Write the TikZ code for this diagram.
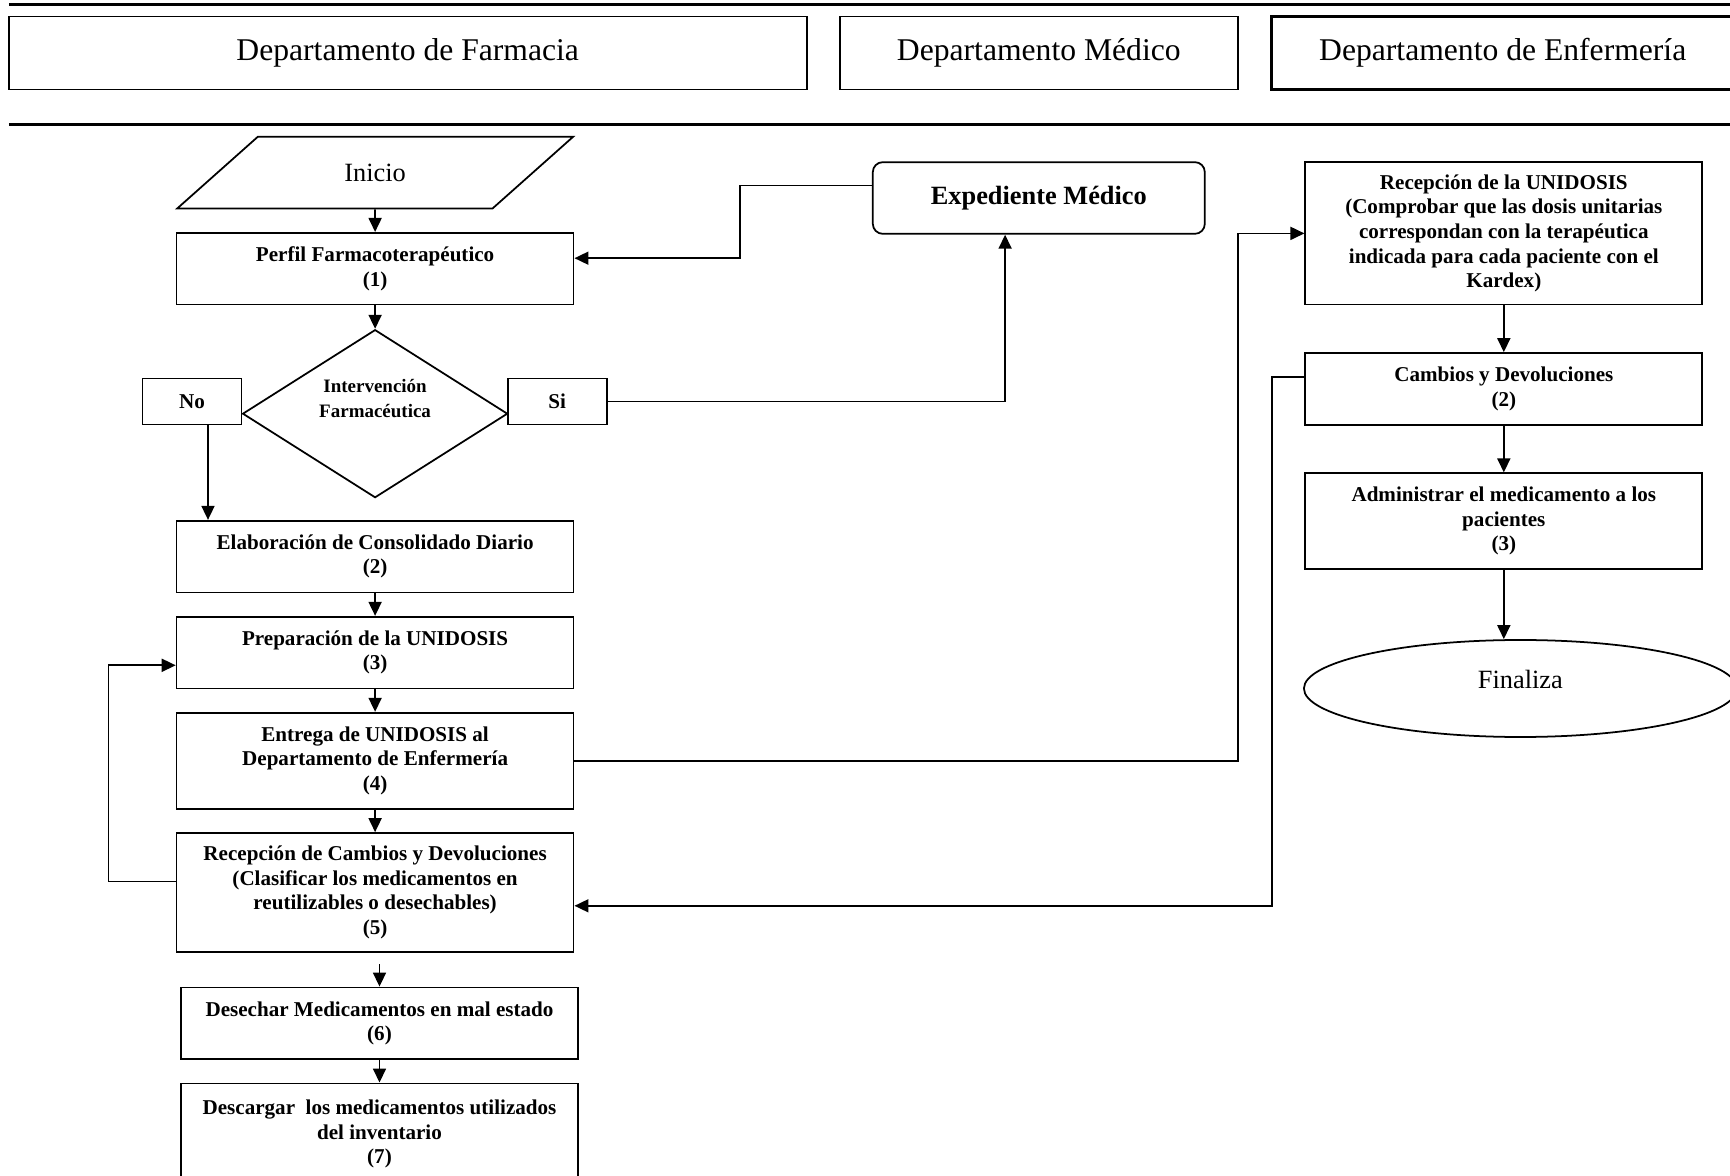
\documentclass[tikz,border=0pt]{standalone}
\usepackage{fontspec}
\setmainfont{Liberation Serif}
\usetikzlibrary{shapes.geometric,arrows.meta}

\begin{document}
\begin{tikzpicture}[
    line width=0.5pt,
    caja/.style={draw, rectangle, minimum width=3.97cm, align=center, inner sep=1pt, font=\bfseries\fontsize{6}{7}\selectfont},
    depto/.style={draw, rectangle, minimum height=0.73cm, font=\fontsize{9}{11}\selectfont},
    resp/.style={draw, rectangle, minimum width=0.99cm, minimum height=0.46cm, inner sep=1pt, font=\bfseries\fontsize{6}{7}\selectfont},
    flecha/.style={-{Triangle[length=1.4mm,width=1.3mm]}}
]
    \useasboundingbox (0,0) rectangle (17.30,-11.76);

    % Encabezado
    \draw[line width=1pt] (0.09,-0.044) -- (17.40,-0.044);
    \draw[line width=1pt] (0.09,-1.247) -- (17.40,-1.247);
    \node[depto, minimum width=7.98cm] (farm) at (4.077,-0.53) {Departamento de Farmacia};
    \node[depto, minimum width=3.98cm] (med) at (10.388,-0.53) {Departamento Médico};
    \node[depto, minimum width=4.63cm, line width=0.8pt] (enf) at (15.027,-0.53) {Departamento de Enfermería};

    % Nodos: Farmacia
    \node[draw, trapezium, trapezium left angle=40, trapezium right angle=140, trapezium stretches=true,
          minimum width=3.97cm, minimum height=0.717cm, inner sep=0pt, font=\fontsize{7.5}{9}\selectfont] (inicio) at (3.751,-1.727) {Inicio};
    \node[caja, minimum height=0.717cm] (perfil) at (3.751,-2.687) {Perfil Farmacoterapéutico\\(1)};
    \node[draw, diamond, shape aspect=1.58, minimum width=2.65cm, minimum height=1.68cm, inner sep=0pt, align=center, text depth=8.8pt,
          font=\bfseries\fontsize{5.4}{7.2}\selectfont] (interv) at (3.751,-4.137) {Intervención\\Farmacéutica};
    \node[resp] (no) at (1.920,-4.016) {No};
    \node[resp] (si) at (5.572,-4.016) {Si};
    \node[caja, minimum height=0.717cm] (elab) at (3.751,-5.566) {Elaboración de Consolidado Diario\\(2)};
    \node[caja, minimum height=0.717cm] (prep) at (3.751,-6.526) {Preparación de la UNIDOSIS\\(3)};
    \node[caja, minimum height=0.96cm] (entrega) at (3.751,-7.607) {Entrega de UNIDOSIS al\\Departamento de Enfermería\\(4)};
    \node[caja, minimum height=1.191cm] (recCamb) at (3.751,-8.926) {Recepción de Cambios y Devoluciones\\(Clasificar los medicamentos en\\reutilizables o desechables)\\(5)};
    \node[caja, minimum height=0.717cm] (desechar) at (3.795,-10.233) {Desechar Medicamentos en mal estado\\(6)};
    \node[caja, minimum height=1.016cm] (descargar) at (3.795,-11.342) {Descargar\ \ los medicamentos utilizados\\del inventario\\(7)};

    % Nodos: Medico
    \node[draw, rectangle, rounded corners=0.1cm, minimum width=3.32cm, minimum height=0.717cm,
          font=\bfseries\fontsize{7.5}{9}\selectfont] (exped) at (10.388,-1.98) {Expediente Médico};

    % Nodos: Enfermeria
    \node[caja, minimum height=1.423cm] (recUni) at (15.038,-2.334) {Recepción de la UNIDOSIS\\(Comprobar que las dosis unitarias\\correspondan con la terapéutica\\indicada para cada paciente con el\\Kardex)};
    \node[caja, minimum height=0.717cm] (cambios) at (15.038,-3.889) {Cambios y Devoluciones\\(2)};
    \node[caja, minimum height=0.96cm] (admin) at (15.038,-5.213) {Administrar el medicamento a los\\pacientes\\(3)};
    \node[draw, ellipse, minimum width=4.33cm, minimum height=0.97cm, inner sep=0pt, text depth=5pt,
          font=\fontsize{7.5}{9}\selectfont] (fin) at (15.204,-6.885) {Finaliza};

    % Codos
    \coordinate (codo1) at (7.403,-2.2);
    \coordinate (codo2) at (12.379,-5.0);
    \coordinate (codo3) at (12.721,-6.0);

    % Conectores
    \draw[flecha] (inicio.south) -- (perfil.north);
    \draw[flecha] (perfil) -- (interv);
    \draw[flecha] ([xshift=0.16cm]no.south) -- ([xshift=0.16cm]no.south |- elab.north);
    \draw[flecha] (si.east) -| ([xshift=-0.337cm]exped.south);
    \draw[flecha] ([yshift=0.126cm]exped.west) -| (codo1) |- ([yshift=0.105cm]perfil.east);
    \draw[flecha] (elab) -- (prep);
    \draw[flecha] (prep) -- (entrega);
    \draw[flecha] (entrega) -- (recCamb);
    \draw[flecha] ([yshift=0.111cm]recCamb.west) -- ++(-0.673,0) |- ([yshift=-0.127cm]prep.west);
    \draw[flecha] (entrega.east) -| (codo2) |- (recUni.west);
    \draw[flecha] ([yshift=0.116cm]cambios.west) -| (codo3) |- ([yshift=-0.132cm]recCamb.east);
    \draw[flecha] ([yshift=-0.11cm]desechar.north |- recCamb.south) -- (desechar.north);
    \draw[flecha] (desechar) -- (descargar);
    \draw[flecha] (recUni) -- (cambios);
    \draw[flecha] (cambios) -- (admin);
    \draw[flecha] (admin.south) -- (admin.south |- fin.north);
\end{tikzpicture}
\end{document}
